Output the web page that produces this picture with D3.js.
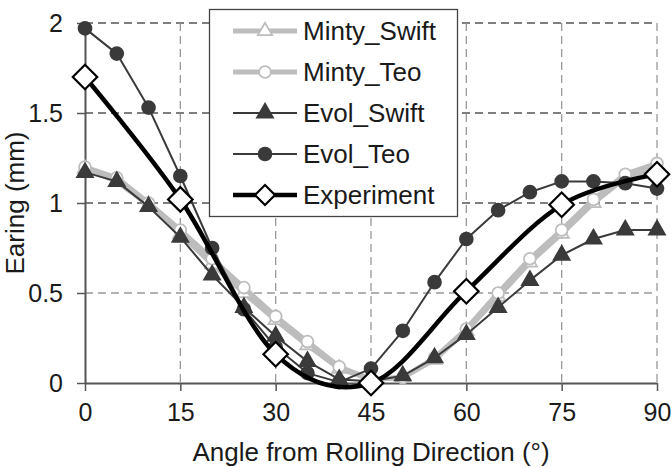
<!DOCTYPE html>
<html>
<head>
<meta charset="utf-8">
<script src="https://cdn.jsdelivr.net/npm/d3@7"></script>
<style>
  body { margin: 0; background: #fff; }
  text { font-family: "Liberation Sans", Arial, sans-serif; fill: #1a1a1a; }
</style>
</head>
<body>
<svg id="chart" width="672" height="468"></svg>
<script>
const angles = [0, 5, 10, 15, 20, 25, 30, 35, 40, 45, 50, 55, 60, 65, 70, 75, 80, 85, 90];
const mintySwift = [1.19, 1.12, 0.99, 0.83, 0.66, 0.50, 0.35, 0.21, 0.08, 0.02, 0.03, 0.13, 0.29, 0.48, 0.67, 0.83, 1.00, 1.14, 1.20];
const mintyTeo   = [1.20, 1.14, 1.00, 0.85, 0.69, 0.53, 0.37, 0.23, 0.09, 0.02, 0.03, 0.14, 0.30, 0.50, 0.69, 0.85, 1.02, 1.16, 1.22];
const evolSwift  = [1.17, 1.12, 0.98, 0.81, 0.60, 0.42, 0.26, 0.12, 0.02, 0.01, 0.04, 0.14, 0.27, 0.42, 0.57, 0.71, 0.80, 0.85, 0.85];
const evolTeo    = [1.97, 1.83, 1.53, 1.15, 0.75, 0.41, 0.20, 0.055, 0.005, 0.08, 0.29, 0.56, 0.80, 0.96, 1.06, 1.12, 1.12, 1.11, 1.08];
const expAngles  = [0, 15, 30, 45, 60, 75, 90];
const experiment = [1.70, 1.02, 0.16, 0.0, 0.51, 0.99, 1.16];
const xTicks = [0, 15, 30, 45, 60, 75, 90];
const yTicks = [0, 0.5, 1, 1.5, 2];

const margin = { top: 23, right: 15, bottom: 85, left: 85 };
const width = 672 - margin.left - margin.right;
const height = 468 - margin.top - margin.bottom;

const svg = d3.select("#chart")
  .append("g")
    .attr("transform", `translate(${margin.left},${margin.top})`);

const x = d3.scaleLinear().domain([0, 90]).range([0, width]);
const y = d3.scaleLinear().domain([0, 2]).range([height, 0]);

// gridlines
svg.selectAll(".hgrid")
    .data(yTicks.filter(d => d > 0))
  .enter().append("line")
    .attr("x1", 0).attr("x2", width)
    .attr("y1", d => y(d)).attr("y2", d => y(d))
    .attr("stroke", d => d === 0.5 ? "#999" : "#555")
    .attr("stroke-width", 1.3)
    .attr("stroke-dasharray", "8,5");

svg.selectAll(".vgrid")
    .data(xTicks.filter(d => d > 0))
  .enter().append("line")
    .attr("x1", d => x(d)).attr("x2", d => x(d))
    .attr("y1", 0).attr("y2", height)
    .attr("stroke", "#999")
    .attr("stroke-width", 1.3)
    .attr("stroke-dasharray", "8,5");

// axes
const xAxis = svg.append("g")
    .attr("transform", `translate(0,${height})`)
    .call(d3.axisBottom(x).tickValues(xTicks).tickSize(8).tickPadding(12).tickSizeOuter(0));
const yAxis = svg.append("g")
    .call(d3.axisLeft(y).tickValues(yTicks).tickSize(8).tickPadding(14).tickSizeOuter(0)
      .tickFormat(d3.format("~g")));

[xAxis, yAxis].forEach(a => {
  a.select(".domain").attr("stroke", "#555").attr("stroke-width", 2);
  a.selectAll(".tick line").attr("stroke", "#555").attr("stroke-width", 1.5);
  a.selectAll(".tick text")
    .style("font-family", "Liberation Sans, Arial, sans-serif")
    .style("font-size", "25px").attr("fill", "#1a1a1a");
});
xAxis.selectAll(".tick text").attr("dy", "0.71em");

svg.append("text")
    .attr("x", width / 2).attr("y", height + 78)
    .attr("text-anchor", "middle")
    .style("font-size", "26px")
    .text("Angle from Rolling Direction (°)");

svg.append("text")
    .attr("transform", `translate(${-61},${height / 2}) rotate(-90)`)
    .attr("text-anchor", "middle")
    .style("font-size", "26px")
    .text("Earing (mm)");

const series = [
  { name: "Minty_Swift", xs: angles, ys: mintySwift, color: "#bdbdbd", lw: 5, marker: "triangle", fill: "#fff", mstroke: "#bdbdbd", size: 90, curve: d3.curveLinear },
  { name: "Minty_Teo", xs: angles, ys: mintyTeo, color: "#bdbdbd", lw: 5, marker: "circle", fill: "#fff", mstroke: "#bdbdbd", size: 110, curve: d3.curveLinear },
  { name: "Evol_Swift", xs: angles, ys: evolSwift, color: "#3a3a3a", lw: 2, marker: "triangle", fill: "#3a3a3a", mstroke: "#3a3a3a", size: 110, curve: d3.curveLinear },
  { name: "Evol_Teo", xs: angles, ys: evolTeo, color: "#3a3a3a", lw: 2, marker: "circle", fill: "#3a3a3a", mstroke: "#3a3a3a", size: 130, curve: d3.curveLinear },
  { name: "Experiment", xs: expAngles, ys: experiment, color: "#000", lw: 4.5, marker: "diamond", fill: "#fff", mstroke: "#000", size: 300, curve: d3.curveCardinal }
];

const symType = { triangle: d3.symbolTriangle, circle: d3.symbolCircle, diamond: d3.symbolSquare };

function marker(sel, s) {
  sel.attr("d", d3.symbol().type(symType[s.marker]).size(s.size)())
    .attr("fill", s.fill)
    .attr("stroke", s.mstroke)
    .attr("stroke-width", s.marker === "diamond" ? 2.2 : 1.8);
}

series.forEach(s => {
  const pts = s.xs.map((a, i) => [a, s.ys[i]]);
  const line = d3.line().x(d => x(d[0])).y(d => y(d[1])).curve(s.curve);
  svg.append("path")
      .datum(pts)
      .attr("d", line)
      .attr("fill", "none")
      .attr("stroke", s.color)
      .attr("stroke-width", s.lw)
      .attr("stroke-linejoin", "round");
  svg.selectAll(null)
      .data(pts)
    .enter().append("path")
      .attr("transform", d => `translate(${x(d[0])},${y(d[1])})` + (s.marker === "diamond" ? " rotate(45)" : ""))
      .call(marker, s);
});

// legend
const legend = d3.select("#chart").append("g");
legend.append("rect")
    .attr("x", 209.5).attr("y", 9.5)
    .attr("width", 248).attr("height", 207)
    .attr("fill", "#fff")
    .attr("stroke", "#444")
    .attr("stroke-width", 1.3);

series.forEach((s, i) => {
  const ly = 31 + i * 41;
  const g = legend.append("g");
  g.append("line")
      .attr("x1", 233).attr("x2", 297)
      .attr("y1", ly).attr("y2", ly)
      .attr("stroke", s.color)
      .attr("stroke-width", s.lw);
  g.append("path")
      .attr("transform", `translate(265,${ly})` + (s.marker === "diamond" ? " rotate(45)" : ""))
      .call(marker, Object.assign({}, s, { size: s.marker === "diamond" ? 200 : s.size }));
  g.append("text")
      .attr("x", 303).attr("y", ly)
      .attr("dy", "0.36em")
      .style("font-size", "26px")
      .text(s.name);
});
</script>
</body>
</html>
